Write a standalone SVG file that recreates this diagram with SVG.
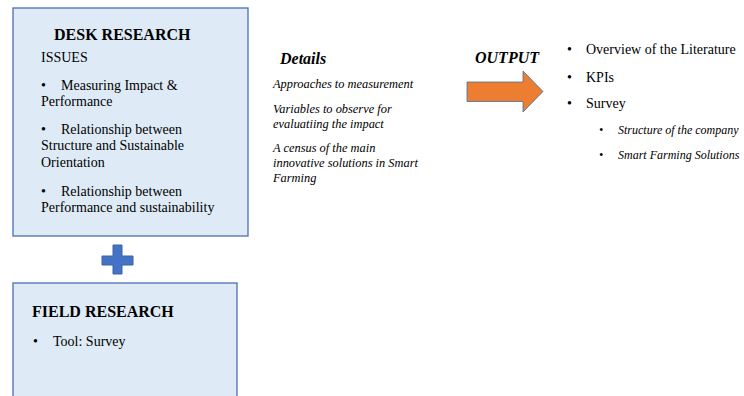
<svg xmlns="http://www.w3.org/2000/svg" width="744" height="396" viewBox="0 0 744 396">
  <style>
    .box { fill: #DEEBF7; stroke: #4A6FB0; stroke-width: 1.3; }
    .t { font-family: "Liberation Serif", "Times New Roman", serif; fill: #000; }
    .h { font-size: 16px; font-weight: bold; }
    .hi { font-size: 16px; font-weight: bold; font-style: italic; }
    .b { font-size: 14px; }
    .i { font-size: 12px; font-style: italic; }
    .d { font-size: 12.4px; font-style: italic; }
  </style>
  <rect width="744" height="396" fill="#FFFFFF"/>

  <g id="desk-research">
    <rect class="box" x="13" y="8" width="235" height="228"/>
    <text class="t h" x="54" y="40">DESK RESEARCH</text>
    <text class="t b" x="41" y="62">ISSUES</text>
    <text class="t b" x="41" y="90">•</text>
    <text class="t b" x="61" y="90">Measuring Impact &amp;</text>
    <text class="t b" x="41" y="106">Performance</text>
    <text class="t b" x="41" y="134">•</text>
    <text class="t b" x="61" y="134">Relationship between</text>
    <text class="t b" x="41" y="150">Structure and Sustainable</text>
    <text class="t b" x="41" y="167">Orientation</text>
    <text class="t b" x="41" y="196">•</text>
    <text class="t b" x="61" y="196">Relationship between</text>
    <text class="t b" x="41" y="212">Performance and sustainability</text>
  </g>

  <g id="plus">
    <path d="M113 245 H122 V256 H133 V265 H122 V274 H113 V265 H102 V256 H113 Z" fill="#4472C4" stroke="#3A62A8" stroke-width="1"/>
  </g>

  <g id="field-research">
    <rect class="box" x="13" y="283" width="224" height="130"/>
    <text class="t h" x="32" y="317">FIELD RESEARCH</text>
    <text class="t b" x="33" y="346">•</text>
    <text class="t b" x="53" y="346">Tool: Survey</text>
  </g>

  <g id="details">
    <text class="t hi" x="280" y="64">Details</text>
    <text class="t d" x="273" y="88">Approaches to measurement</text>
    <text class="t d" x="273" y="113">Variables to observe for</text>
    <text class="t d" x="273" y="128">evaluatiing the impact</text>
    <text class="t d" x="273" y="152">A census of the main</text>
    <text class="t d" x="273" y="167">innovative solutions in Smart</text>
    <text class="t d" x="273" y="182">Farming</text>
  </g>

  <g id="connectors">
    <text class="t hi" x="475" y="63">OUTPUT</text>
    <path d="M467 82 H523 V71 L543 91.5 L523 112 V101.5 H467 Z" fill="#ED7D31" stroke="#41719C" stroke-width="0.8"/>
  </g>

  <g id="output">
    <text class="t b" x="567" y="54">•</text>
    <text class="t b" x="586" y="54">Overview of the Literature</text>
    <text class="t b" x="567" y="82">•</text>
    <text class="t b" x="586" y="82">KPIs</text>
    <text class="t b" x="567" y="108">•</text>
    <text class="t b" x="586" y="108">Survey</text>
    <text class="t i" x="599" y="134">•</text>
    <text class="t i" x="618" y="134">Structure of the company</text>
    <text class="t i" x="599" y="159">•</text>
    <text class="t i" x="618" y="159">Smart Farming Solutions</text>
  </g>
</svg>
